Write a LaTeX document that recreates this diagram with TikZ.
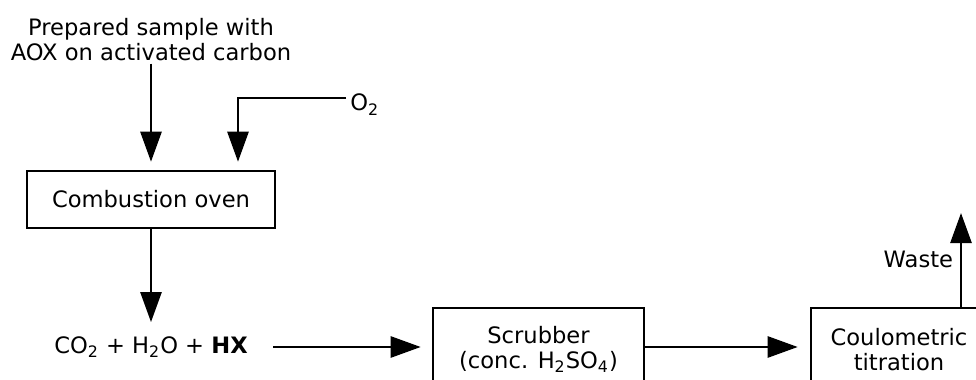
\documentclass[tikz,border=0pt]{standalone}
\usepackage{fontspec}
\setmainfont{DejaVu Sans}
\usepackage{tikz}
\usetikzlibrary{arrows.meta, positioning, calc}

\tikzset{
  box/.style={draw, line width=1.3pt, align=center, inner sep=0pt},
  flow/.style={line width=1.3pt, -{Triangle[length=15pt, width=10.5pt]}},
}

\begin{document}
\begin{tikzpicture}[x=0.5pt, y=-0.5pt, font=\fontsize{11.3}{12.5}\selectfont]
  \clip (0,0) rectangle (976,380);
  % Inputs to the oven
  \node[align=center, inner sep=1pt] (sample) at (151,40) {Prepared sample with\\AOX on activated carbon};
  \node[box, minimum width=124pt, minimum height=28.5pt] (oven) at (151,199.5) {Combustion oven};
  \node[anchor=base west, inner sep=2pt] (oxygen) at (346,111) {O\textsubscript{2}};
  \coordinate (bend) at (238,98);
  \draw[flow, shorten >=4pt] (sample.south) -- (oven.north);
  \draw[flow, shorten >=4pt] (oxygen.west |- bend) -- (bend) -- (bend |- oven.north);
  % Combustion gases
  \node[inner sep=0pt] (gases) at (151,347) {CO\textsubscript{2} + H\textsubscript{2}O + \textbf{HX}};
  \draw[flow, shorten >=7pt] (oven.south) -- (gases.north);
  % Absorption and detection
  \node[box, minimum width=105.5pt, minimum height=41.5pt] (scrubber) at (538.5,349.5) {Scrubber\\(conc. H\textsubscript{2}SO\textsubscript{4})};
  \node[box, minimum width=88pt, minimum height=41.5pt] (coul) at (899,349.5) {Coulometric\\titration};
  \draw[flow, shorten <=12.5pt, shorten >=5.5pt] (gases.east) -- (scrubber.west |- gases.east);
  \draw[flow, shorten >=6pt] (scrubber.east |- gases.east) -- (coul.west |- gases.east);
  \coordinate (wasteend) at (961,213);
  \draw[flow] (coul.north -| wasteend) -- node[left] {Waste} (wasteend);
\end{tikzpicture}
\end{document}
